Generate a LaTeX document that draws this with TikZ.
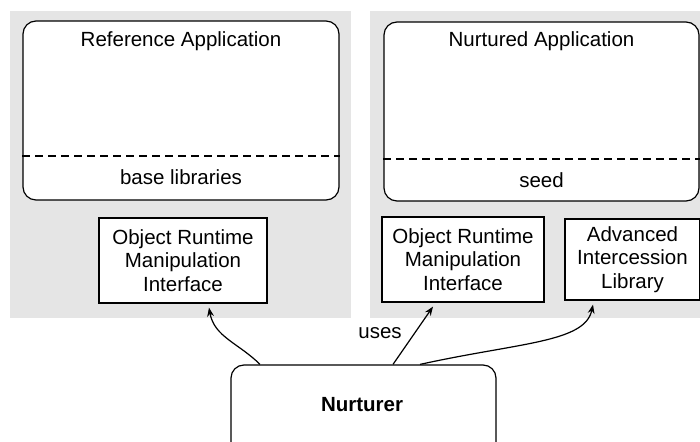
\documentclass[tikz,border=0pt]{standalone}
\usepackage{fontspec}
\setmainfont{Liberation Sans}
\usetikzlibrary{arrows.meta}
\begin{document}
\begin{tikzpicture}[x=0.5pt,y=-0.5pt,
  every node/.style={font=\fontsize{10.25}{11.65}\selectfont},
  panel/.style={fill=black!10, draw=none},
  appbox/.style={draw, line width=0.6pt, rounded corners=6.5pt, fill=white, inner sep=0pt},
  modbox/.style={draw, line width=0.6pt, fill=white, align=center, inner sep=0pt},
  sep/.style={dashed, line width=0.6pt, dash pattern=on 4pt off 2.5pt},
  uses/.style={-{Stealth[length=4.5pt,width=3.4pt]}, line width=0.6pt}
]
\useasboundingbox (0,0) rectangle (700,442);
\clip (0,0) rectangle (700,442);
% panels
\fill[panel] (10,11) rectangle (351,318);
\fill[panel] (370,11) rectangle (700,318);
% application boxes
\node[appbox, minimum width=158pt, minimum height=89.5pt] (refapp) at (181,110.5) {};
\node[appbox, minimum width=157.5pt, minimum height=89.5pt] (nurapp) at (541.5,111.5) {};
\node[anchor=base] (reftitle) at (181,46.7) {Reference Application};
\node[anchor=base] (nurtitle) at (541.5,46.7) {Nurtured Application};
\draw[sep] (refapp.west |- 0,156) -- (refapp.east |- 0,156);
\draw[sep] (nurapp.west |- 0,159) -- (nurapp.east |- 0,159);
\node[anchor=base] (baselib) at (181,185) {base libraries};
\node[anchor=base] (seed) at (541.5,188) {seed};
% modules
\node[modbox, minimum width=84pt, minimum height=42.5pt] (orml) at (183,260.5) {Object Runtime\\Manipulation\\Interface};
\node[modbox, minimum width=81pt, minimum height=42.5pt] (ormr) at (463,259.5) {Object Runtime\\Manipulation\\Interface};
\node[modbox, minimum width=67.5pt, minimum height=40.5pt] (ail) at (632.5,259.5) {Advanced\\Intercession\\Library};
% nurturer
\node[appbox, minimum width=132.5pt, minimum height=57.5pt] (nur) at (363.5,422.5) {};
\node[font=\fontsize{10.25}{11.65}\selectfont\bfseries] (nurtext) at (362,405) {Nurturer};
% connectors
\draw[uses] ([xshift=-51.75pt]nur.north) to[out=135,in=-80] ([xshift=13pt,yshift=-2pt]orml.south);
\draw[uses] ([xshift=14.75pt]nur.north) -- ([xshift=-15pt,yshift=-2pt]ormr.south);
\draw[uses] ([xshift=28.25pt]nur.north) .. controls +(100,-22) and +(-8,38) .. ([xshift=-19.75pt,yshift=-2pt]ail.south);
\node (useslbl) at (380,333) {uses};
\end{tikzpicture}
\end{document}
